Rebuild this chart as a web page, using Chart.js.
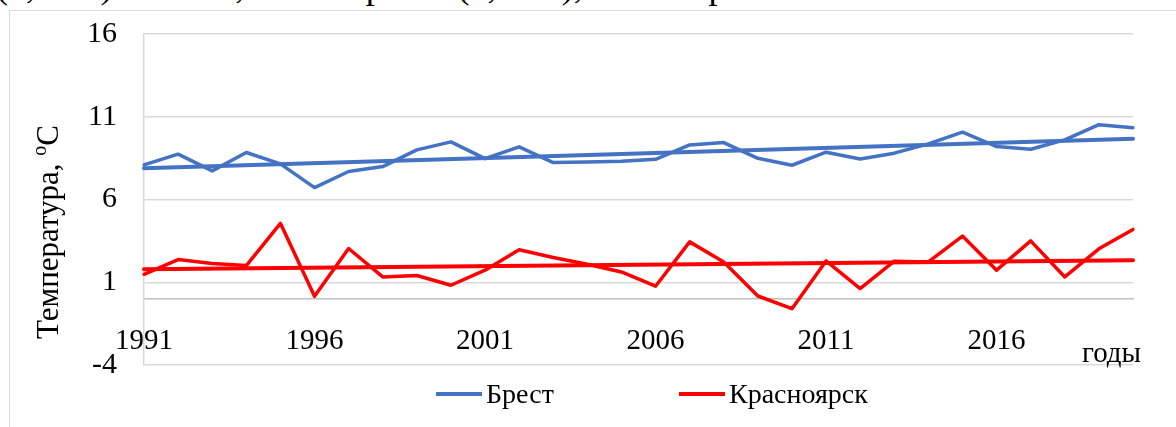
<!DOCTYPE html>
<html>
<head>
<meta charset="utf-8">
<script src="https://cdn.jsdelivr.net/npm/chart.js@4.4.1/dist/chart.umd.min.js"></script>
<style>
  html, body { margin: 0; padding: 0; background: #fff; }
  #wrap { position: relative; width: 1176px; height: 427px; overflow: hidden; }
  #doc { position: absolute; left: -4px; top: -32px; white-space: nowrap;
         font: 36px/1 "Liberation Serif", serif; color: #000; }
  #frame { position: absolute; left: 9px; top: 10px; width: 1300px; height: 500px;
           border: 1.5px solid #d9d9d9; box-sizing: border-box; }
  #c { position: absolute; left: 0; top: 0; }
</style>
</head>
<body>
<div id="wrap">
  <div id="doc">(3,2 °С) больше, чем в Бресте (3,8 °С), не смотря на его континентальность</div>
  <div id="frame"></div>
  <canvas id="c" width="1176" height="427"></canvas>
</div>
<script>
// годы 1991-2020
const years = [];
for (let y = 1991; y <= 2020; y++) years.push(String(y));
const yearTicks = ['1991', '1996', '2001', '2006', '2011', '2016'];
const yTicks = [-4, 1, 6, 11, 16];

const brest = [8.09, 8.74, 7.73, 8.84, 8.15, 6.72, 7.69, 7.99, 9.0, 9.48,
               8.47, 9.18, 8.23, 8.27, 8.31, 8.43, 9.3, 9.44, 8.49, 8.07,
               8.86, 8.45, 8.8, 9.36, 10.07, 9.2, 9.04, 9.6, 10.52, 10.33];
const krasnoyarsk = [1.48, 2.37, 2.13, 2.01, 4.56, 0.15, 3.04, 1.32, 1.41, 0.82,
                     1.73, 2.96, 2.5, 2.09, 1.62, 0.76, 3.44, 2.23, 0.17, -0.6,
                     2.29, 0.62, 2.27, 2.23, 3.79, 1.73, 3.5, 1.32, 3.02, 4.19];
// линии тренда: значения в начале и в конце периода
const brestTrend = [7.89, 9.67];
const krasTrend = [1.79, 2.33];

const BLUE = '#4472C4';
const RED = '#FF0000';
const FONT = '"Liberation Serif", "Times New Roman", serif';

function trendData(ends) {
  // only the two end points, the line is drawn between them
  return years.map((_, i) => i === 0 ? ends[0] : (i === years.length - 1 ? ends[1] : null));
}

function noPad(scale) {
  scale.paddingTop = 0;
  scale.paddingBottom = 0;
}

const extras = {
  id: 'extras',
  afterDraw(chart) {
    const ctx = chart.ctx;
    ctx.save();
    ctx.fillStyle = '#000';

    // y axis title with superscript
    ctx.translate(50, 232);
    ctx.rotate(-Math.PI / 2);
    ctx.textBaseline = 'middle';
    ctx.textAlign = 'left';
    const main = 'Температура, ';
    ctx.font = '31px ' + FONT;
    const w1 = ctx.measureText(main).width;
    const wC = ctx.measureText('С').width;
    ctx.font = '20px ' + FONT;
    const wo = ctx.measureText('о').width;
    let x = -(w1 + wo + wC) / 2;
    ctx.font = '31px ' + FONT;
    ctx.fillText(main, x, 0);
    x += w1;
    ctx.font = '20px ' + FONT;
    ctx.fillText('о', x, -9);
    x += wo;
    ctx.font = '31px ' + FONT;
    ctx.fillText('С', x, 0);
    ctx.restore();

    // x axis title
    ctx.save();
    ctx.font = '29px ' + FONT;
    ctx.fillStyle = '#000';
    ctx.textBaseline = 'alphabetic';
    ctx.fillText('годы', 1082, 362);

    // legend
    ctx.font = '28px ' + FONT;
    const items = [
      { ds: chart.data.datasets[0], x: 436 },
      { ds: chart.data.datasets[1], x: 679 }
    ];
    items.forEach(it => {
      ctx.strokeStyle = it.ds.borderColor;
      ctx.lineWidth = 4;
      ctx.beginPath();
      ctx.moveTo(it.x, 394);
      ctx.lineTo(it.x + 46, 394);
      ctx.stroke();
      ctx.textBaseline = 'middle';
      ctx.fillText(it.ds.label, it.x + 50, 396);
    });
    ctx.restore();
  }
};

new Chart(document.getElementById('c'), {
  type: 'line',
  data: {
    labels: years,
    datasets: [
      { label: 'Брест', data: brest, borderColor: BLUE, borderWidth: 3.5 },
      { label: 'Красноярск', data: krasnoyarsk, borderColor: RED, borderWidth: 3.5 },
      { label: 'trend1', data: trendData(brestTrend), borderColor: BLUE, borderWidth: 4, spanGaps: true },
      { label: 'trend2', data: trendData(krasTrend), borderColor: RED, borderWidth: 4, spanGaps: true }
    ]
  },
  options: {
    responsive: false,
    animation: false,
    layout: { padding: { top: 34, right: 43, bottom: 62, left: 0 } },
    elements: { point: { radius: 0 }, line: { tension: 0, borderCapStyle: 'round', borderJoinStyle: 'round' } },
    plugins: { legend: { display: false }, tooltip: { enabled: false } },
    scales: {
      x: {
        position: { y: 0 },
        offset: false,
        afterFit: noPad,
        grid: { display: false },
        border: { color: '#bfbfbf', width: 1.5 },
        ticks: {
          autoSkip: false,
          maxRotation: 0,
          padding: 17,
          color: '#000',
          font: { family: FONT, size: 29 },
          callback(v, i) { return yearTicks.includes(years[i]) ? years[i] : null; }
        }
      },
      y: {
        min: -4,
        max: 16,
        afterBuildTicks(scale) { scale.ticks = yTicks.map(v => ({ value: v })); },
        afterFit(scale) { scale.width = 144; noPad(scale); },
        grid: { color: '#d9d9d9', lineWidth: 1.5, drawTicks: false },
        border: { color: '#d9d9d9', width: 1.5 },
        ticks: {
          padding: 27,
          color: '#000',
          font: { family: FONT, size: 30 }
        }
      }
    }
  },
  plugins: [extras]
});
</script>
</body>
</html>
